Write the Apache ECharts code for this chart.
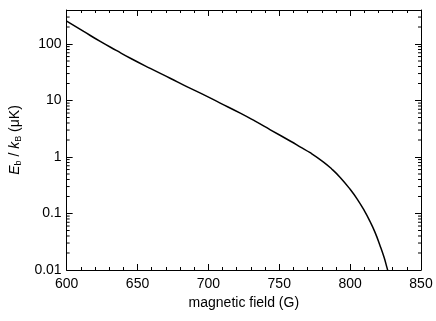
<!DOCTYPE html>
<html>
<head>
<meta charset="utf-8">
<script src="https://cdn.jsdelivr.net/npm/echarts@6/dist/echarts.min.js"></script>
<style>
    html, body { margin: 0; padding: 0; background: #fff; }
    #chart { width: 436px; height: 321px; }
</style>
</head>
<body>
<div id="chart"></div>
<script>
// magnetic field (G) and binding energy (μK)
const fieldValues = [600, 612, 624, 635, 645, 659, 673, 684, 694.4, 708, 722.5, 733, 743.7, 758, 765, 771.8, 781, 787, 793, 800, 805, 810, 814, 817.5, 821, 824, 826, 826.6];
const energyValues = [255, 167, 110, 77, 56, 37, 24.8, 18, 13.5, 9.1, 5.97, 4.3, 3.03, 1.9, 1.5, 1.19, 0.822, 0.615, 0.435, 0.268, 0.18, 0.112, 0.0724, 0.0468, 0.0275, 0.0166, 0.011, 0.0097];

const decades = [0.01, 0.1, 1, 10, 100];
const minorFactors = [2, 3, 4, 5, 6, 7, 8, 9];
const yMin = 0.01;
const yMax = 400;
const xMin = 600;
const xMax = 850;

const minorTickValues = [];
decades.forEach(d => {
    minorFactors.forEach(f => {
        const v = d * f;
        if (v < yMax) minorTickValues.push(v);
    });
});

const chart = echarts.init(document.getElementById('chart'));

const font = 'Liberation Sans, Arial, sans-serif';

const baseX = {
    type: 'value',
    min: xMin,
    max: xMax,
    interval: 50,
    axisLine: { show: true, lineStyle: { color: '#000', width: 1 } },
    axisTick: { show: true, inside: true, length: 6, lineStyle: { color: '#000' } },
    minorTick: { show: true, splitNumber: 5, length: 3, lineStyle: { color: '#000' } },
    splitLine: { show: false }
};

const baseY = {
    type: 'log',
    logBase: 10,
    min: yMin,
    max: yMax,
    axisLine: { show: true, lineStyle: { color: '#000', width: 1 } },
    axisTick: { show: true, inside: true, length: 6, lineStyle: { color: '#000' } },
    splitLine: { show: false }
};

chart.setOption({
    animation: false,
    backgroundColor: '#fff',
    grid: { left: 66, right: 15, top: 10, bottom: 51 },
    xAxis: [
        Object.assign({}, baseX, {
            position: 'bottom',
            name: 'magnetic field (G)',
            nameLocation: 'middle',
            nameGap: 26,
            nameTextStyle: { color: '#000', fontSize: 14, fontFamily: font },
            axisLabel: { color: '#000', fontSize: 14, fontFamily: font, margin: 7 }
        }),
        Object.assign({}, baseX, {
            position: 'top',
            axisLabel: { show: false }
        })
    ],
    yAxis: [
        Object.assign({}, baseY, {
            position: 'left',
            name: '{i|E}{s|b}{n| / }{i|k}{s|B}{n| (μK)}',
            nameLocation: 'middle',
            nameRotate: 90,
            nameGap: 42,
            nameTextStyle: {
                color: '#000',
                fontSize: 14,
                fontFamily: font,
                rich: {
                    i: { fontStyle: 'italic', fontSize: 14, fontFamily: font, color: '#000' },
                    s: { fontSize: 9, fontFamily: font, color: '#000', padding: [8, 0, 0, 0] },
                    n: { fontSize: 14, fontFamily: font, color: '#000' }
                }
            },
            axisLabel: {
                color: '#000',
                fontSize: 14,
                fontFamily: font,
                margin: 5,
                formatter: v => (decades.indexOf(v) >= 0 ? String(v) : '')
            }
        }),
        Object.assign({}, baseY, {
            position: 'right',
            axisLabel: { show: false }
        })
    ],
    series: [
        {
            type: 'line',
            xAxisIndex: 0,
            yAxisIndex: 0,
            data: fieldValues.map((x, i) => [x, energyValues[i]]),
            smooth: true,
            showSymbol: false,
            lineStyle: { color: '#000', width: 1.5 },
            clip: true
        },
        {
            // log minor ticks (2..9 per decade) on left and right edges
            type: 'custom',
            xAxisIndex: 0,
            yAxisIndex: 0,
            silent: true,
            clip: false,
            data: minorTickValues.map(v => [xMin, v]),
            renderItem: (params, api) => {
                const left = api.coord([xMin, api.value(1)]);
                const right = api.coord([xMax, api.value(1)]);
                const style = { stroke: '#000', lineWidth: 1 };
                return {
                    type: 'group',
                    children: [
                        { type: 'line', shape: { x1: left[0], y1: left[1], x2: left[0] + 3, y2: left[1] }, style },
                        { type: 'line', shape: { x1: right[0], y1: right[1], x2: right[0] - 3, y2: right[1] }, style }
                    ]
                };
            }
        }
    ]
});
</script>
</body>
</html>
